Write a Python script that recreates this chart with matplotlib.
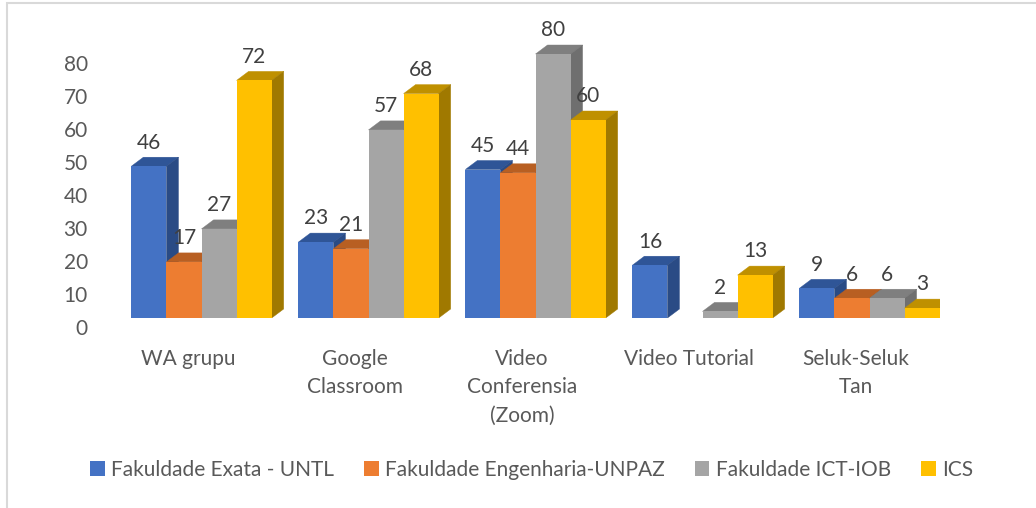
import numpy as np
import matplotlib.pyplot as plt
from matplotlib.patches import Polygon, Rectangle
from matplotlib.transforms import ScaledTranslation

plt.rcParams['font.family'] = ['Lato', 'DejaVu Sans']

categories = ['WA grupu', 'Google\nClassroom', 'Video\nConferensia\n(Zoom)', 'Video Tutorial', 'Seluk-Seluk\nTan']
series = ['Fakuldade Exata - UNTL', 'Fakuldade Engenharia-UNPAZ', 'Fakuldade ICT-IOB', 'ICS']
exata = [46, 23, 45, 16, 9]
engenharia = [17, 21, 44, 0, 6]
ict = [27, 57, 80, 2, 6]
ics = [72, 68, 60, 13, 3]
yticks = [0, 10, 20, 30, 40, 50, 60, 70, 80]

values = [exata, engenharia, ict, ics]
colors = ['#4472C4', '#ED7D31', '#A5A5A5', '#FFC000']
tops = ['#2F5597', '#B85F22', '#7F7F7F', '#BF9000']
sides = ['#2A4B85', '#9E521D', '#6F6F6F', '#A07900']
text_color = '#595959'

W, H = 1036, 508
fig = plt.figure(figsize=(W / 100, H / 100), dpi=100)
ax = fig.add_axes([104.5 / W, (H - 318) / H, 835 / W, 297 / H])
ax.set_xlim(-0.5, 4.5)
ax.set_ylim(0, 90)

bw = 0.21
shift = 0.081
dx = 12 / 167
dy = 9 / 3.3
x = np.arange(len(categories))

for j, vals in enumerate(values):
    pos = x + shift + (j - 1.5) * bw
    bars = ax.bar(pos, vals, width=bw, color=colors[j], linewidth=0,
                  label=series[j], zorder=3 + 2 * j)
    for p, v in zip(pos, vals):
        if v == 0:
            continue
        x0, x1 = p - bw / 2, p + bw / 2
        ax.add_patch(Polygon([(x0, v), (x0 + dx, v + dy), (x1 + dx, v + dy), (x1, v)],
                             closed=True, color=tops[j], lw=0.3, zorder=2 + 2 * j))
        ax.add_patch(Polygon([(x1, 0), (x1 + dx, dy), (x1 + dx, v + dy), (x1, v)],
                             closed=True, color=sides[j], lw=0.3, zorder=2 + 2 * j))
        ax.annotate(str(v), (p, v), xytext=(0, 17), textcoords='offset points',
                    ha='center', va='center', fontsize=15, color='#404040', zorder=20)

ax.set_yticks(yticks)
ax.set_xticks(x)
ax.set_xticklabels(categories, linespacing=1.55)
ax.tick_params(axis='both', length=0, labelsize=15, labelcolor=text_color)
ax.tick_params(axis='y', pad=12)
ax.tick_params(axis='x', pad=22)
off = ScaledTranslation(0, -9 / 100, fig.dpi_scale_trans)
for lab in ax.get_yticklabels():
    lab.set_transform(lab.get_transform() + off)
for s in ax.spines.values():
    s.set_visible(False)

leg = fig.legend(loc='center', bbox_to_anchor=(0.513, (H - 470) / H), ncol=4,
                 frameon=False, fontsize=15, handlelength=0.7, handleheight=0.7,
                 handletextpad=0.3, columnspacing=1.45, labelcolor=text_color)

fig.add_artist(Rectangle((7 / W, -0.1), 1.2, 1.094, transform=fig.transFigure,
                         fill=False, edgecolor='#D9D9D9', linewidth=1.5))

fig.savefig('out.png', dpi=100)
